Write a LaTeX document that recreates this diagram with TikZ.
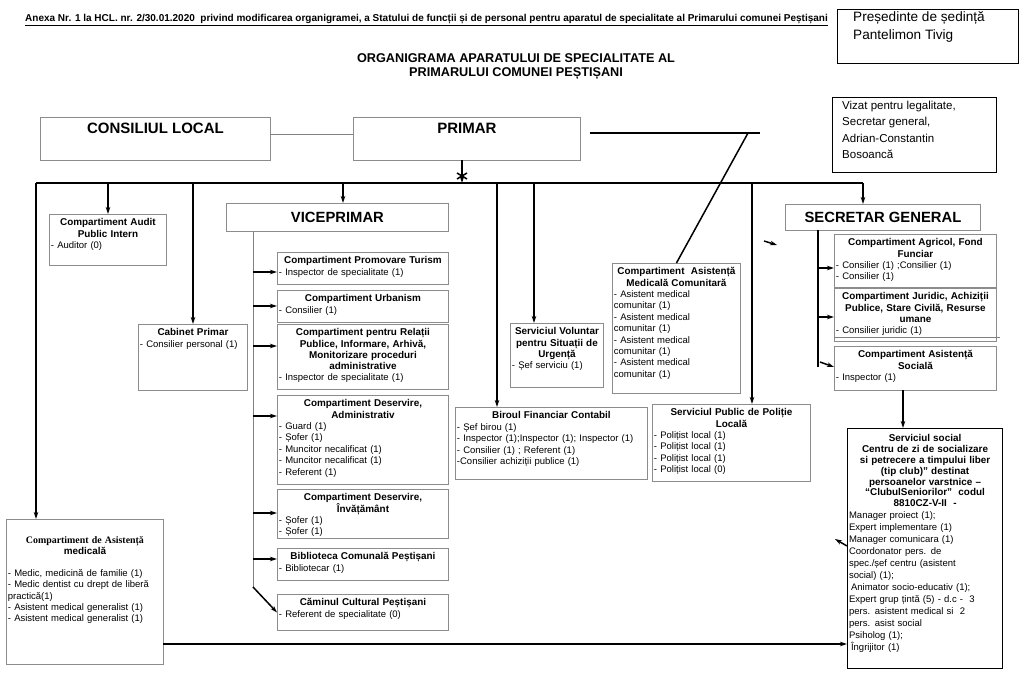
\documentclass[tikz,border=0pt]{standalone}
\usepackage{fontspec}
\setmainfont{Liberation Sans}
\newfontfamily\tnr{Liberation Serif}
\usetikzlibrary{arrows.meta}
\tikzset{
 box/.style={draw=black!45, line width=0.9pt, fill=white, inner sep=0pt},
 kbox/.style={draw=black, line width=1.1pt, fill=white, inner sep=0pt},
 txt/.style={inner xsep=1.5pt, inner ysep=4.5pt, align=left, font=\fontsize{9.5}{11.4}\selectfont},
 con/.style={line width=1.5pt, black},
 thin/.style={line width=0.9pt, black!50},
 arr/.style={con, -{Stealth[length=7pt,width=4.5pt]}},
 big/.style={font=\fontsize{15}{17}\selectfont\bfseries, inner sep=0pt},
}
\newcommand\ttl[1]{{\centering\fontsize{9.9}{11.2}\selectfont\bfseries #1\par}}
\newcommand\orgbox[8][]{%
 \pgfmathsetmacro\bw{#5-#3}\pgfmathsetmacro\bh{#6-#4}\pgfmathsetmacro\tw{#5-#3-3}%
 \node[#2, anchor=north west, minimum width=\bw pt, minimum height=\bh pt] (#7) at (#3,#4) {};
 \node[txt, anchor=north, text width=\tw pt, #1] (#7-t) at (#7.north) {#8};
}
\begin{document}
\begin{tikzpicture}[x=1pt,y=-1pt]
\useasboundingbox[fill=white] (0,0) rectangle (1024,679);
% header
\node[anchor=west, inner sep=0pt, font=\fontsize{10}{12}\selectfont\bfseries] (hdr) at (25,20)
 {\underline{Anexa Nr. 1 la HCL. nr. 2/30.01.2020 \ privind modificarea organigramei, a Statului de funcții și de personal pentru aparatul de specialitate al Primarului comunei Peștișani}};
\node[align=center, inner sep=0pt, font=\fontsize{12.7}{14}\selectfont\bfseries] (title) at (516,67)
 {ORGANIGRAMA APARATULUI DE SPECIALITATE AL\\PRIMARULUI COMUNEI PEȘTIȘANI};
% signature boxes
\node[kbox, anchor=north west, minimum width=181pt, minimum height=54pt] (pres) at (837,9) {};
\node[anchor=north west, align=left, inner sep=0pt, font=\fontsize{13.6}{18}\selectfont] (pres-t) at (853,11)
 {Președinte de ședință\\Pantelimon Tivig};
\node[kbox, anchor=north west, minimum width=164pt, minimum height=75pt] (viz) at (832,97) {};
\node[anchor=north west, align=left, inner sep=0pt, font=\fontsize{11.5}{16.4}\selectfont] (viz-t) at (842,101)
 {Vizat pentru legalitate,\\Secretar general,\\Adrian-Constantin\\Bosoancă};
% top boxes
\node[box, anchor=north west, minimum width=230pt, minimum height=43pt] (cl) at (40,117) {};
\node[big, anchor=north] (cl-t) at ([yshift=-6pt]cl.north) {CONSILIUL LOCAL};
\node[box, anchor=north west, minimum width=227pt, minimum height=43pt] (prim) at (353,117) {};
\node[big, anchor=north] (prim-t) at ([yshift=-6pt]prim.north) {PRIMAR};
\node[box, anchor=north west, minimum width=222pt, minimum height=28pt] (vice) at (226,203) {};
\node[big, font=\fontsize{14.8}{17}\selectfont\bfseries] (vice-t) at (vice.center) {VICEPRIMAR};
\node[box, anchor=north west, minimum width=195pt, minimum height=26pt] (sec) at (785,204) {};
\node[big, font=\fontsize{14.8}{17}\selectfont\bfseries] (sec-t) at (sec.center) {SECRETAR GENERAL};
% left
\orgbox{box}{49}{214}{166}{265}{aud}{\ttl{Compartiment Audit\\Public Intern}- Auditor (0)}
\orgbox{box}{138}{324}{247}{390}{cab}{\ttl{Cabinet Primar}- Consilier personal (1)}
\orgbox[yshift=-13pt]{box}{6}{519}{163}{664}{am}{{\centering\fontsize{9.9}{11.2}\selectfont\bfseries{\tnr Compartiment de Asistență}\\medicală\par}\vspace{10pt}- Medic, medicină de familie (1)\\- Medic dentist cu drept de liberă\\practică(1)\\- Asistent medical generalist (1)\\- Asistent medical generalist (1)}
% viceprimar column
\orgbox{box}{277}{252}{448}{284}{pt}{\ttl{Compartiment Promovare Turism}- Inspector de specialitate (1)}
\orgbox{box}{277}{290}{448}{322}{urb}{\ttl{Compartiment Urbanism}- Consilier (1)}
\orgbox{box}{277}{324}{448}{389}{rel}{\ttl{Compartiment pentru Relații\\Publice, Informare, Arhivă,\\Monitorizare proceduri\\administrative}- Inspector de specialitate (1)}
\orgbox{box}{277}{395}{448}{484}{dadm}{\ttl{Compartiment Deservire,\\Administrativ}- Guard (1)\\- Șofer (1)\\- Muncitor necalificat (1)\\- Muncitor necalificat (1)\\- Referent (1)}
\begin{scope}
\clip (276,488) rectangle (449,537);
\orgbox{box}{277}{489}{448}{538}{dinv}{\ttl{Compartiment Deservire,\\Învățământ}- Șofer (1)\\- Șofer (1)}
\end{scope}
\draw[draw=black!45, line width=0.9pt] (dinv.north west) rectangle (dinv.south east);
\orgbox{box}{277}{548}{448}{580}{bib}{\ttl{Biblioteca Comunală Peștișani}- Bibliotecar (1)}
\orgbox{box}{277}{594}{448}{630}{cam}{\ttl{Căminul Cultural Peștișani}- Referent de specialitate (0)}
% middle
\orgbox{box}{510}{323}{603}{387}{vol}{\ttl{Serviciul Voluntar\\pentru Situații de\\Urgență}- Șef serviciu (1)}
\orgbox{box}{612}{263}{740}{393}{amc}{\ttl{Compartiment \ Asistență\\Medicală Comunitară}- Asistent medical\\comunitar (1)\\- Asistent medical\\comunitar (1)\\- Asistent medical\\comunitar (1)\\- Asistent medical\\comunitar (1)}
\orgbox{box}{455}{407}{647}{479}{bfc}{\ttl{Biroul Financiar Contabil}- Șef birou (1)\\- Inspector (1);Inspector (1); Inspector (1)\\- Consilier (1) ; Referent (1)\\-Consilier achiziții publice (1)}
\orgbox{box}{652}{404}{810}{481}{pol}{\ttl{Serviciul Public de Poliție\\Locală}- Polițist local (1)\\- Polițist local (1)\\- Polițist local (1)\\- Polițist local (0)}
% secretar column
\orgbox{box}{834}{234}{996}{287}{agr}{\ttl{Compartiment Agricol, Fond\\Funciar}- Consilier (1) ;Consilier (1)\\- Consilier (1)}
\orgbox{box}{834}{288}{996}{341}{jur}{\ttl{Compartiment Juridic, Achiziții\\Publice, Stare Civilă, Resurse\\umane}- Consilier juridic (1)}
\orgbox{box}{834}{346}{996}{390}{soc}{\ttl{Compartiment Asistență\\Socială}- Inspector (1)}
\orgbox[yshift=-2pt]{kbox}{847}{428}{1002}{668}{ss}{{\centering\fontsize{9.9}{10.8}\selectfont\bfseries Serviciul social\\Centru de zi de socializare\\si petrecere a timpului liber\\(tip club)” destinat\\persoanelor varstnice –\\“ClubulSeniorilor” \ codul\\8810CZ-V-II \ -\par}\fontsize{9.5}{12}\selectfont Manager proiect (1);\\Expert implementare (1)\\Manager comunicara (1)\\Coordonator pers. de\\spec./șef centru (asistent\\social) (1);\\\hspace*{2pt}Animator socio-educativ (1);\\Expert grup țintă (5) - d.c - \ 3\\pers. asistent medical si \ 2\\pers. asist social\\Psiholog (1);\\\hspace*{2pt}Îngrijitor (1)}
% connectors
\coordinate (c1) at (270,134);
\draw[thin] (c1) -- (c1 -| prim.west);
\coordinate (pa) at (462,160);
\coordinate (pb) at (462,183);
\draw[arr] (pa) -- (pb);
\draw[con] (457,173) -- (467,179) (457,179) -- (467,173);
\coordinate (busL) at (36,183);
\coordinate (busR) at (863,183);
\draw[con] (busL) -- (busR);
\draw[arr] (busL) -- (busL |- am.north);
\coordinate (d1) at (108,183); \draw[arr] (d1) -- (d1 |- aud.north);
\coordinate (d2) at (193,183); \draw[arr] (d2) -- (d2 |- cab.north);
\coordinate (d3) at (343,183); \draw[arr] (d3) -- (d3 |- vice.north);
\coordinate (d4) at (497,183); \draw[arr] (d4) -- (d4 |- bfc.north);
\coordinate (d5) at (534,183); \draw[arr] (d5) -- (d5 |- vol.north);
\coordinate (d6) at (752,183); \draw[arr] (d6) -- (d6 |- pol.north);
\draw[arr] (busR) -- (busR |- sec.north);
% primar side line
\coordinate (p1) at (590,133); \coordinate (p2) at (760,133); \coordinate (p3) at (748,133);
\draw[con] (p1) -- (p2);
\draw[con] (p3) -- (amc.north);
% viceprimar trunk
\coordinate (vt) at (253,231); \coordinate (vb) at (253,587);
\draw[thin] (vt) -- (vb);
\draw[arr] (vb) -- (cam.west);
\coordinate (h1) at (253,272); \draw[arr] (h1) -- (h1 -| pt.west);
\coordinate (h2) at (253,306); \draw[arr] (h2) -- (h2 -| urb.west);
\coordinate (h3) at (253,346); \draw[arr] (h3) -- (h3 -| rel.west);
\coordinate (h4) at (253,416); \draw[arr] (h4) -- (h4 -| dadm.west);
\coordinate (h5) at (253,513); \draw[arr] (h5) -- (h5 -| dinv.west);
\coordinate (h6) at (253,559); \draw[arr] (h6) -- (h6 -| bib.west);
% secretar trunk
\coordinate (st) at (818,230); \coordinate (sb) at (818,367);
\draw[con] (st) -- (sb);
\coordinate (g1) at (818,268); \draw[arr] (g1) -- (g1 -| agr.west);
\coordinate (g2) at (818,317); \draw[arr] (g2) -- (g2 -| jur.west);
\coordinate (g3) at (820,362); \draw[arr] (g3) -- (soc.west |- 0,367);
\draw[thin] (jur.south west |- 0,337) -- (1000,337);
\coordinate (s1) at (903,390); \draw[arr] (s1) -- (s1 |- ss.north);
\coordinate (a1) at (163,644); \draw[arr] (a1) -- (a1 -| ss.west);
% stray arrow heads
\coordinate (x1) at (764,241); \draw[arr] (x1) -- (777,245);
\coordinate (x2) at (847,546); \draw[arr] (x2) -- (835,539);
\end{tikzpicture}
\end{document}
